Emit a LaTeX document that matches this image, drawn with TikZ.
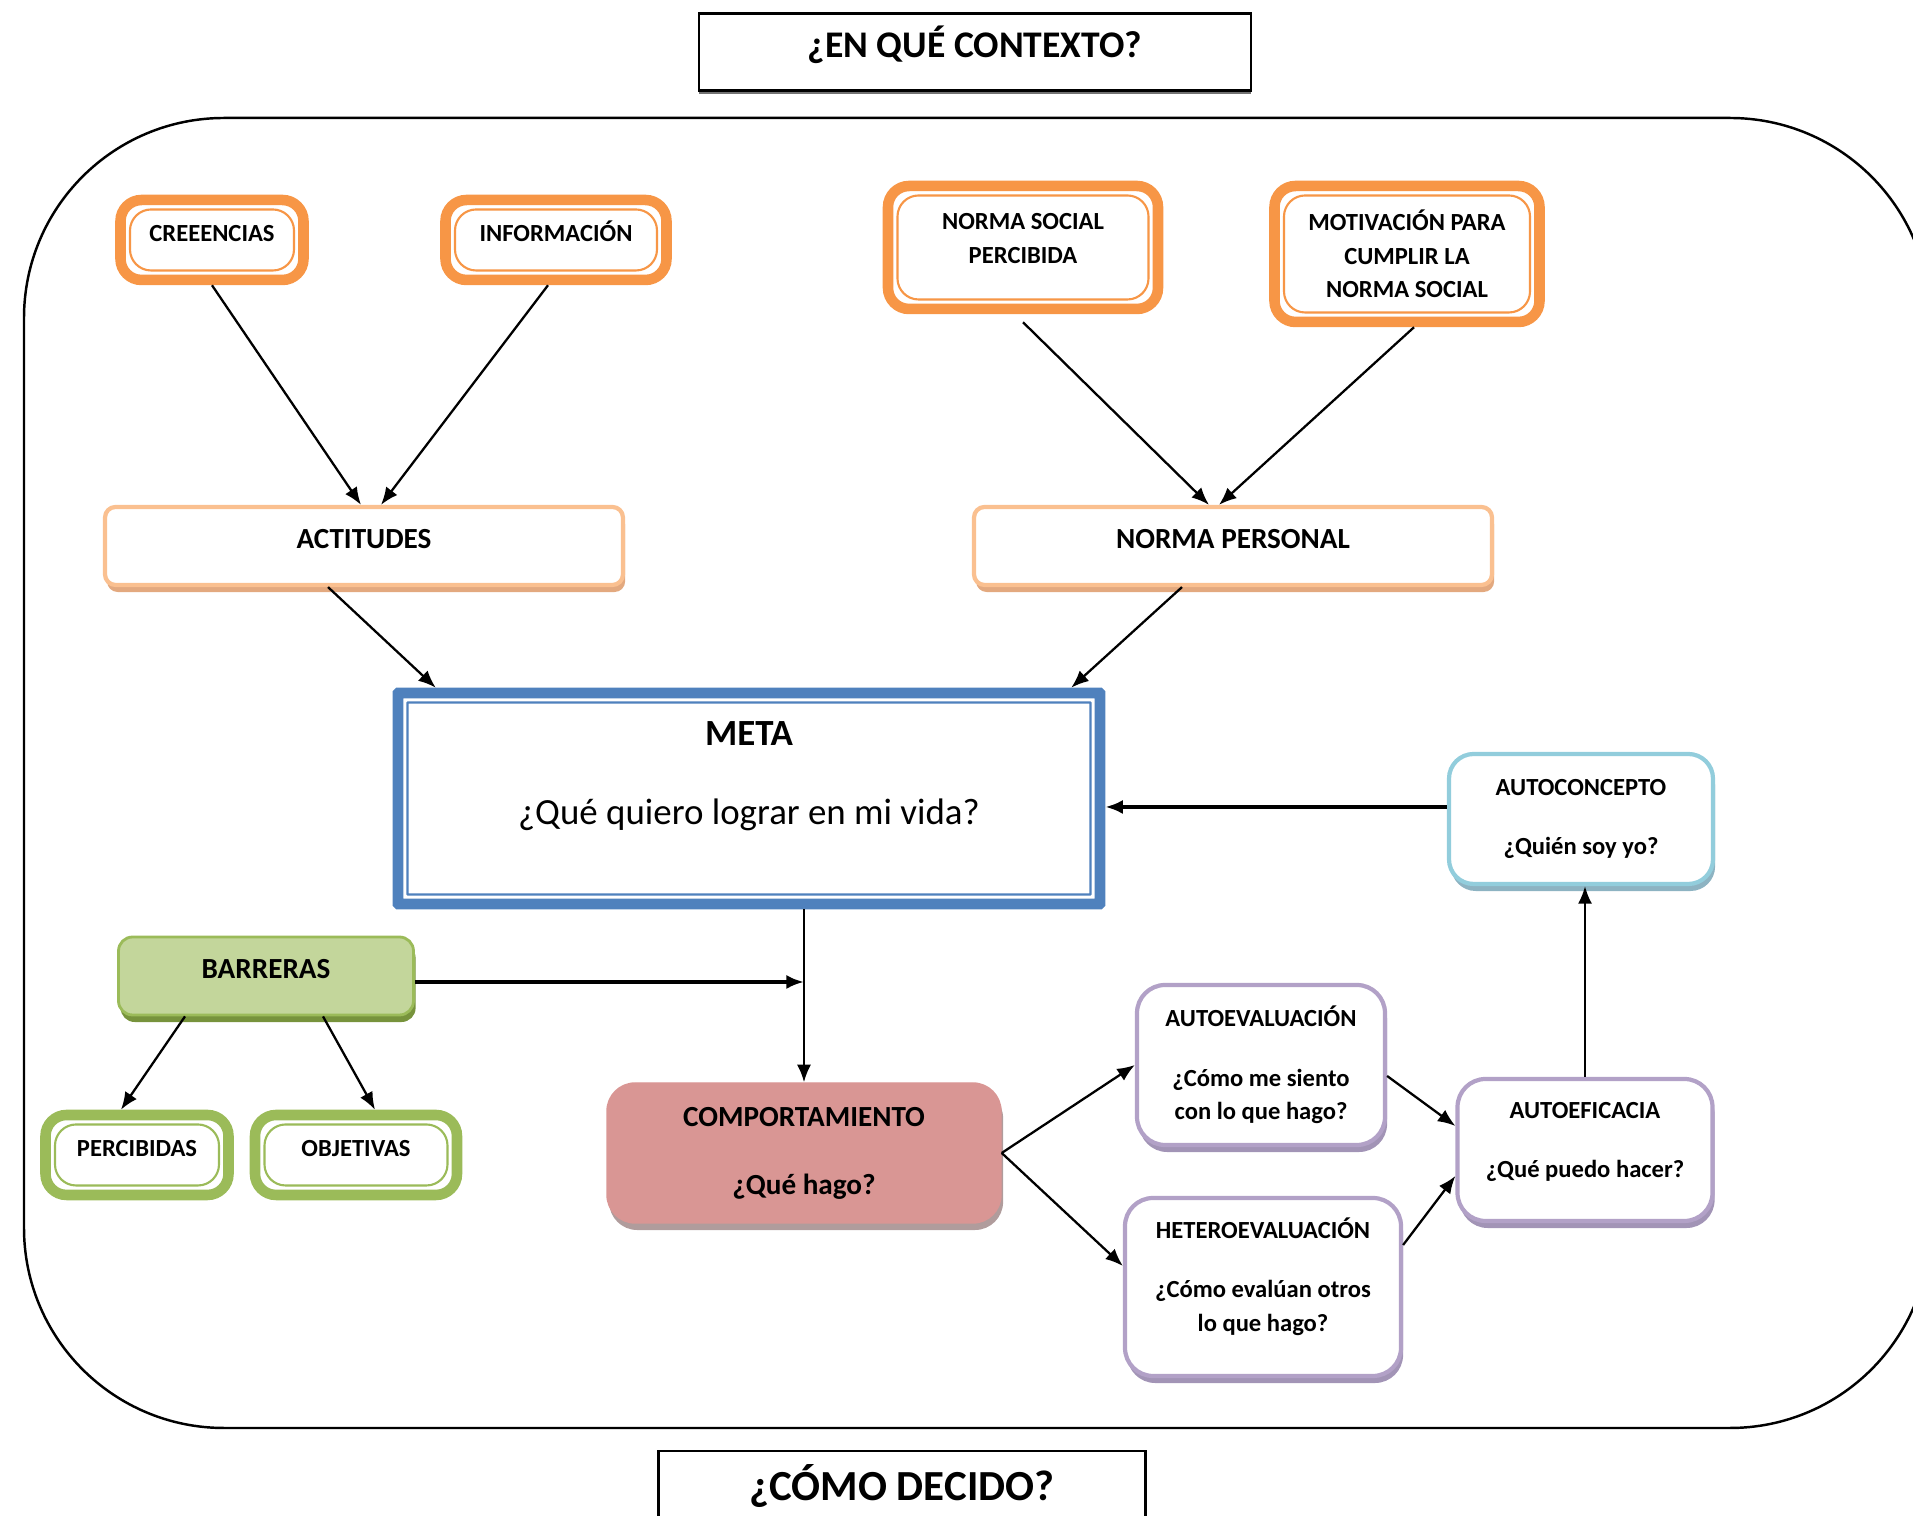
\documentclass[tikz,border=0pt]{standalone}
\usepackage{fontspec}
\setmainfont{Carlito}
\usetikzlibrary{arrows.meta,shadows}

\definecolor{orgline}{HTML}{F79646}
\definecolor{actline}{HTML}{FAC090}
\definecolor{actshade}{HTML}{E3A97F}
\definecolor{metablue}{HTML}{4F81BD}
\definecolor{grnline}{HTML}{9BBB59}
\definecolor{grnfill}{HTML}{C3D69B}
\definecolor{grnshade}{HTML}{77933C}
\definecolor{compfill}{HTML}{D99694}
\definecolor{compshade}{HTML}{B09C9C}
\definecolor{aqualine}{HTML}{92CDDC}
\definecolor{aquashade}{HTML}{8DB3C2}
\definecolor{lilaline}{HTML}{B2A1C7}
\definecolor{lilashade}{HTML}{A294B6}

\tikzset{
  smalltxt/.style={font=\fontsize{7}{9.5}\selectfont\bfseries, align=center, inner sep=0pt},
  midtxt/.style={font=\fontsize{8.3}{10}\selectfont\bfseries, align=center, inner sep=0pt},
  lift/.style 2 args={text height=#1, text depth=#2},
  boxshadow/.style={general shadow={fill=#1, shadow yshift=-2pt, shadow xshift=0.6pt}},
  dblframe/.style 2 args={draw=#1, line width=3pt, fill=white, rounded corners=#2,
    path picture={\draw [#1, line width=0.6pt, rounded corners=#2]
      ([shift={(2.7pt,2.7pt)}]path picture bounding box.south west) rectangle
      ([shift={(-2.7pt,-2.7pt)}]path picture bounding box.north east);}},
  orgbox/.style={dblframe={orgline}{6pt}, smalltxt},
  grnbox/.style={dblframe={grnline}{6pt}, smalltxt},
  metabox/.style={dblframe={metablue}{0.1pt}, align=center, inner sep=0pt,
    font=\fontsize{10.5}{12.6}\selectfont},
  actbox/.style={draw=actline, line width=1.2pt, fill=white, rounded corners=3pt,
    boxshadow=actshade, midtxt},
  barbox/.style={draw=grnline, line width=0.8pt, fill=grnfill, rounded corners=4pt,
    boxshadow=grnshade, midtxt},
  compbox/.style={draw=compfill, fill=compfill, rounded corners=8pt,
    boxshadow=compshade, midtxt},
  aquabox/.style={draw=aqualine, line width=1.2pt, fill=white, rounded corners=7pt,
    boxshadow=aquashade, smalltxt},
  lilabox/.style={draw=lilaline, line width=1.2pt, fill=white, rounded corners=8pt,
    boxshadow=lilashade, smalltxt},
  titlebox/.style={draw=black, line width=0.8pt, fill=white,
    general shadow={fill=black!55, shadow yshift=-1pt}, inner sep=0pt},
  conn/.style={-{Latex[length=5pt,width=4pt]}, line width=0.65pt},
}

\begin{document}
\begin{tikzpicture}
      \useasboundingbox (0,0) rectangle (19.13,15.16);
      \clip (0,0) rectangle (19.13,15.16);

      \draw [line width=0.7pt, rounded corners=2cm] (0.24,0.88) rectangle (19.30,13.98);

      \node [titlebox, minimum width=5.52cm, minimum height=0.77cm, lift={8pt}{5pt},
        font=\fontsize{10.7}{13}\selectfont\bfseries] (ctx) at (9.75,14.64) {¿EN QUÉ CONTEXTO?};
      \node [titlebox, minimum width=4.87cm, minimum height=0.70cm,
        font=\fontsize{12.2}{14}\selectfont\bfseries] (dec) at (9.02,0.30) {¿CÓMO DECIDO?};

      \node [orgbox, minimum width=1.83cm, minimum height=0.80cm, lift={5pt}{4pt}] (cre) at (2.12,12.76) {CREEENCIAS};
      \node [orgbox, minimum width=2.21cm, minimum height=0.80cm, lift={5pt}{4pt}] (info) at (5.56,12.76) {INFORMACIÓN};
      \node [orgbox, minimum width=2.70cm, minimum height=1.23cm] (nsp) at (10.23,12.685) {NORMA SOCIAL\\PERCIBIDA\\[-0.155cm]\mbox{}};
      \node [orgbox, minimum width=2.65cm, minimum height=1.36cm] (mot) at (14.07,12.62) {MOTIVACIÓN PARA\\CUMPLIR LA\\NORMA SOCIAL};

      \node [actbox, minimum width=5.18cm, minimum height=0.78cm, lift={6pt}{4.6pt}] (act) at (3.64,9.70) {ACTITUDES};
      \node [actbox, minimum width=5.18cm, minimum height=0.78cm, lift={6pt}{4.6pt}] (np) at (12.33,9.70) {NORMA PERSONAL};

      \node [metabox, minimum width=7.02cm, minimum height=2.11cm] (meta) at (7.49,7.175)
        {\textbf{META}\\[0.35cm]¿Qué quiero lograr en mi vida?\\[0.06cm]\mbox{}};

      \node [aquabox, minimum width=2.64cm, minimum height=1.30cm] (ac) at (15.81,6.97)
        {AUTOCONCEPTO\\[0.26cm]¿Quién soy yo?};

      \node [barbox, minimum width=2.95cm, minimum height=0.78cm, lift={6pt}{4.6pt}] (bar) at (2.66,5.40) {BARRERAS};
      \node [grnbox, minimum width=1.83cm, minimum height=0.80cm, lift={5pt}{4pt}] (perc) at (1.37,3.61) {PERCIBIDAS};
      \node [grnbox, minimum width=2.02cm, minimum height=0.80cm, lift={5pt}{4pt}] (obj) at (3.56,3.61) {OBJETIVAS};

      \node [compbox, minimum width=3.94cm, minimum height=1.40cm] (comp) at (8.04,3.63)
        {COMPORTAMIENTO\\[0.33cm]¿Qué hago?};

      \node [lilabox, minimum width=2.48cm, minimum height=1.60cm] (ae) at (12.61,4.51)
        {AUTOEVALUACIÓN\\[0.26cm]¿Cómo me siento\\con lo que hago?};
      \node [lilabox, minimum width=2.76cm, minimum height=1.78cm] (he) at (12.63,2.29)
        {HETEROEVALUACIÓN\\[0.26cm]¿Cómo evalúan otros\\lo que hago?\\[-0.085cm]\mbox{}};
      \node [lilabox, minimum width=2.55cm, minimum height=1.42cm] (aef) at (15.85,3.66)
        {AUTOEFICACIA\\[0.26cm]¿Qué puedo hacer?\\[-0.135cm]\mbox{}};

      \draw [conn] (cre.south) -- ([xshift=-0.3mm]act.north);
      \draw [conn] ([xshift=-0.8mm]info.south) -- ([xshift=1.7mm]act.north);
      \draw [conn] ([yshift=-0.8mm]nsp.south) -- ([xshift=-2.4mm]np.north);
      \draw [conn] ([xshift=0.7mm]mot.south) -- ([xshift=-1.4mm]np.north);
      \draw [conn] ([xshift=-3.6mm]act.south) -- ([xshift=4.3mm]meta.north west);
      \draw [conn] ([xshift=-5.1mm]np.south) -- ([xshift=-3.4mm]meta.north east);
      \draw [conn, line width=1pt] ([yshift=1.2mm]ac.west) -- ([yshift=1.2mm]ac.west -| meta.east);
      \draw [conn] (meta.south -| comp.north) -- (comp.north);
      \draw [conn, line width=1pt] ([yshift=-0.6mm]bar.east) -- ([yshift=-0.6mm]bar.east -| comp.north);
      \draw [conn] ([xshift=-8.1mm]bar.south) -- ([xshift=-1.6mm]perc.north);
      \draw [conn] ([xshift=5.7mm]bar.south) -- ([xshift=1.9mm]obj.north);
      \draw [conn] (comp.east) -- (ae.west);
      \draw [conn] (comp.east) -- ([yshift=2.1mm]he.west);
      \draw [conn] ([yshift=-1.1mm]ae.east) -- ([yshift=2.4mm]aef.west);
      \draw [conn] ([yshift=4.2mm]he.east) -- ([yshift=-2.6mm]aef.west);
      \draw [conn] (aef.north) -- (aef.north |- ac.south);

\end{tikzpicture}
\end{document}
